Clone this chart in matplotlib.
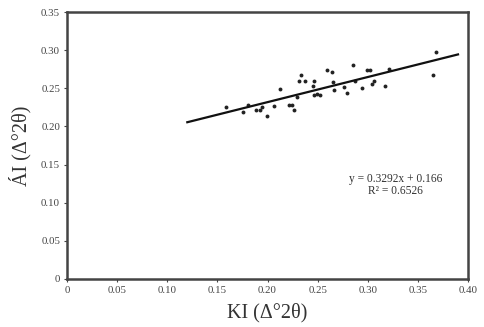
import matplotlib
matplotlib.use("Agg")
import matplotlib.pyplot as plt
import numpy as np

plt.rcParams['font.family'] = ['Liberation Serif', 'DejaVu Serif']

ki = [0.368, 0.365, 0.285, 0.259, 0.264, 0.299, 0.302, 0.321, 0.233, 0.231,
      0.237, 0.246, 0.245, 0.265, 0.266, 0.276, 0.279, 0.287, 0.294, 0.304,
      0.306, 0.317, 0.212, 0.229, 0.249, 0.252, 0.246, 0.221, 0.224, 0.226,
      0.206, 0.189, 0.193, 0.199, 0.181, 0.176, 0.159, 0.195]
ai = [0.297, 0.267, 0.281, 0.274, 0.271, 0.274, 0.274, 0.275, 0.268, 0.259,
      0.259, 0.259, 0.253, 0.258, 0.248, 0.252, 0.244, 0.259, 0.250, 0.256,
      0.259, 0.253, 0.249, 0.239, 0.243, 0.241, 0.241, 0.228, 0.228, 0.222,
      0.227, 0.221, 0.221, 0.214, 0.228, 0.219, 0.226, 0.226]
slope = 0.3292
intercept = 0.166
fit_range = [0.12, 0.39]
xticks = [0, 0.05, 0.10, 0.15, 0.20, 0.25, 0.30, 0.35, 0.40]
xticklabels = ['0', '0.05', '0.10', '0.15', '0.20', '0.25', '0.30', '0.35', '0.40']
yticks = [0, 0.05, 0.10, 0.15, 0.20, 0.25, 0.30, 0.35]
yticklabels = ['0', '0.05', '0.10', '0.15', '0.20', '0.25', '0.30', '0.35']

fig = plt.figure(figsize=(4.84, 3.27), dpi=100)
ax = fig.add_axes([0.1384, 0.1468, 0.8286, 0.8165])

ax.plot(ki, ai, 'o', color='#222222', ms=2.8, mew=0)
fx = np.array(fit_range)
ax.plot(fx, slope * fx + intercept, color='#111111', lw=1.6)

ax.set_xlim(0, 0.40)
ax.set_ylim(0, 0.35)
ax.set_xticks(xticks)
ax.set_xticklabels(xticklabels)
ax.set_yticks(yticks)
ax.set_yticklabels(yticklabels)
ax.tick_params(direction='out', length=2, width=0.8, labelsize=7.8, colors='#444444', pad=3)
for s in ax.spines.values():
    s.set_linewidth(1.8)
    s.set_color('#444444')

ax.set_xlabel('KI (Δ°2θ)', fontsize=14.5, color='#333333', labelpad=6)
ax.set_ylabel('ÁI (Δ°2θ)', fontsize=14.5, color='#333333', labelpad=7)

ax.text(0.3275, 0.123, 'y = 0.3292x + 0.166\nR² = 0.6526', fontsize=8.3,
        ha='center', va='center', color='#333333', linespacing=0.95)

fig.savefig('out.png', dpi=100)
